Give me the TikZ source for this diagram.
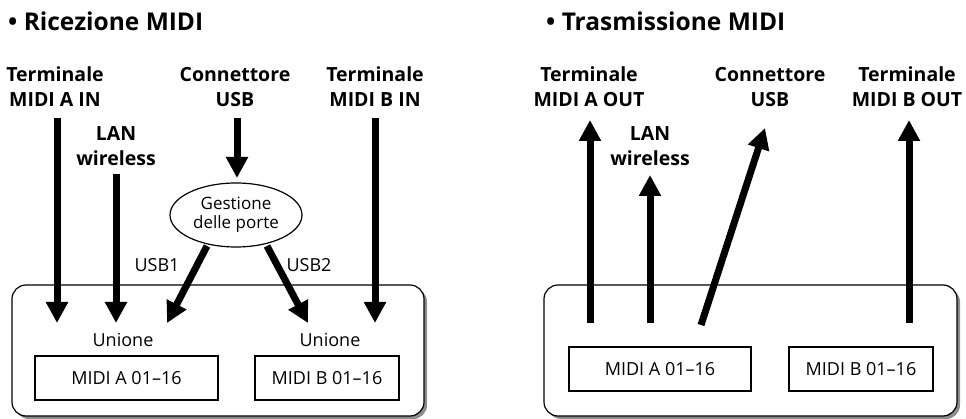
\documentclass[tikz,border=0pt]{standalone}
\usepackage{fontspec}
\setmainfont{Open Sans}
\usetikzlibrary{arrows.meta,shapes.geometric}
\tikzset{
  ttl/.style={font=\bfseries\fontsize{24.5}{28}\selectfont, anchor=base west, inner sep=0},
  lbl/.style={font=\bfseries\fontsize{19.5}{25}\selectfont, align=center, inner sep=0},
  txt/.style={font=\fontsize{18}{20}\selectfont, inner sep=0},
  midibox/.style={draw, line width=1.2pt, minimum height=44pt, font=\fontsize{18}{20}\selectfont, inner sep=0},
  big/.style={line width=7pt, -{Triangle[width=21pt,length=21pt]}},
  frame/.style={draw, line width=1.2pt, rounded corners=14pt, fill=white},
  shadow/.style={fill=black!45, rounded corners=14pt}
}
\begin{document}
\begin{tikzpicture}[x=1pt,y=-1pt]
\useasboundingbox (0,0) rectangle (966,419);
% ---------------- left panel
\node[ttl] (t1) at (8,31) {• Ricezione MIDI};
\node[lbl] (tA) at (55,87) {Terminale\\MIDI A IN};
\node[lbl] (lanL) at (116,146) {LAN\\wireless};
\node[lbl] (usbL) at (235,87) {Connettore\\USB};
\node[lbl] (tB) at (375,87) {Terminale\\MIDI B IN};
\fill[shadow] (15,288) rectangle (427,419);
\draw[frame] (12,285) rectangle (424,416);
\node[txt] (unA) at (123,340) {Unione};
\node[txt] (unB) at (330,340) {Unione};
\node[midibox, minimum width=183pt] (mA) at (126.5,378) {MIDI A 01–16};
\node[midibox, minimum width=144pt] (mB) at (327,378) {MIDI B 01–16};
\node[draw, line width=1.2pt, ellipse, minimum width=132pt, minimum height=64pt, inner sep=0, align=center,
  font=\fontsize{17}{19}\selectfont] (gp) at (236,215) {Gestione\\delle porte};
\node[txt] (u1) at (157,265) {USB1};
\node[txt] (u2) at (309,265) {USB2};
\coordinate (a1s) at (57,118); \coordinate (a1e) at (57,323);
\coordinate (a2s) at (116,174); \coordinate (a2e) at (116,323);
\coordinate (a3s) at (237,118); \coordinate (a3e) at (237,178);
\coordinate (a4s) at (207,246); \coordinate (a4e) at (167,323);
\coordinate (a5s) at (267,246); \coordinate (a5e) at (308,323);
\coordinate (a6s) at (375,118); \coordinate (a6e) at (375,323);
\draw[big] (a1s) -- (a1e);
\draw[big] (a2s) -- (a2e);
\draw[big] (a3s) -- (a3e);
\draw[big] (a4s) -- (a4e);
\draw[big] (a5s) -- (a5e);
\draw[big] (a6s) -- (a6e);
% ---------------- right panel
\node[ttl] (t2) at (546,31) {• Trasmissione MIDI};
\node[lbl] (tAo) at (589,87) {Terminale\\MIDI A OUT};
\node[lbl] (lanR) at (650,146) {LAN\\wireless};
\node[lbl] (usbR) at (770,87) {Connettore\\USB};
\node[lbl] (tBo) at (907,87) {Terminale\\MIDI B OUT};
\fill[shadow] (547,288) rectangle (960,419);
\draw[frame] (544,285) rectangle (957,416);
\node[midibox, minimum width=182pt] (mAo) at (660,369) {MIDI A 01–16};
\node[midibox, minimum width=144pt] (mBo) at (861,369) {MIDI B 01–16};
\coordinate (b1s) at (590,323); \coordinate (b1e) at (590,120);
\coordinate (b2s) at (650,323); \coordinate (b2e) at (650,175);
\coordinate (b3s) at (701,325); \coordinate (b3e) at (765,128);
\coordinate (b4s) at (909,323); \coordinate (b4e) at (909,120);
\draw[big] (b1s) -- (b1e);
\draw[big] (b2s) -- (b2e);
\draw[big] (b3s) -- (b3e);
\draw[big] (b4s) -- (b4e);
\end{tikzpicture}
\end{document}
